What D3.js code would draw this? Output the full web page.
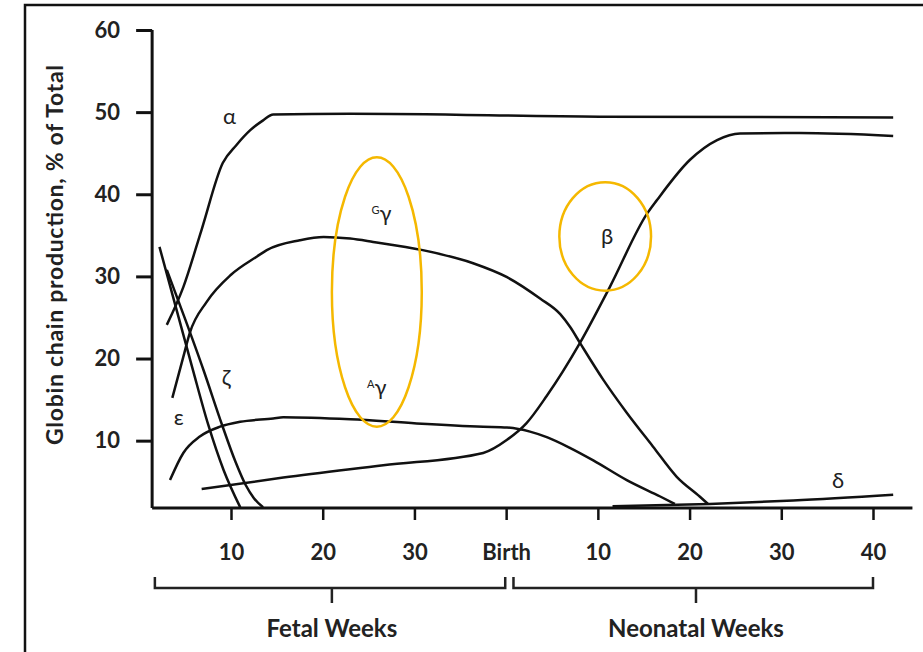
<!DOCTYPE html>
<html>
<head>
<meta charset="utf-8">
<script src="https://cdn.jsdelivr.net/npm/d3@7"></script>
<style>
  body { margin: 0; background: #fff; }
  text { font-family: Lato, "Open Sans", sans-serif; }
</style>
</head>
<body>
<div id="chart"></div>
<script>
// weeks counted from conception, birth = 40
const tickWeeks = [10, 20, 30, 40, 50, 60, 70, 80];
const tickLabels = ["10", "20", "30", "Birth", "10", "20", "30", "40"];
const yTicks = [10, 20, 30, 40, 50, 60];

// globin chains, [week, % of total]
const alpha = [[3.0, 24.1], [4.8, 28.7], [6.8, 35.7], [9.1, 43.8], [10.6, 46.0], [12.1, 47.8], [13.5, 49.0], [14.6, 49.7], [23, 49.8], [50.2, 49.45], [82.2, 49.35]];
const zeta = [[2.2, 33.6], [4.0, 26.2], [5.8, 18.8], [7.5, 12.0], [9.2, 6.4], [11.0, 1.9]];
const epsilon = [[3.0, 30.8], [5.0, 24.8], [7.0, 18.6], [9.0, 12.0], [10.5, 7.4], [11.6, 4.6], [12.5, 3.0], [13.5, 1.9]];
const gGamma = [[3.6, 15.2], [4.8, 20.2], [5.5, 23.1], [7.35, 26.9], [10.0, 30.2], [12.8, 32.4], [13.9, 33.2], [17.5, 34.4], [20.1, 34.8], [23.0, 34.6], [25.5, 34.2], [30.9, 33.2], [36.4, 31.6], [40.1, 29.9], [43.7, 27.3], [45.9, 25.4], [47.0, 23.8], [48.05, 21.9], [50.6, 17.4], [53.15, 13.4], [56.0, 9.3], [58.6, 5.6], [61.1, 3.2], [62.0, 2.3]];
const aGamma = [[3.35, 5.2], [4.8, 8.5], [6.6, 10.5], [8.8, 11.7], [11.0, 12.3], [14.6, 12.7], [15.7, 12.85], [23.0, 12.6], [30.25, 12.1], [37.5, 11.7], [40.1, 11.6], [42.6, 11.1], [44.5, 10.4], [47.0, 9.1], [49.5, 7.6], [53.15, 5.2], [56.8, 3.2], [58.4, 2.3]];
const beta = [[6.8, 4.1], [15.7, 5.5], [26.6, 7.0], [37.5, 8.5], [40.1, 10.1], [42.2, 12.1], [44.4, 15.4], [48.05, 21.9], [51.3, 28.7], [55.4, 37.7], [56.45, 39.3], [60.05, 44.2], [63.0, 46.6], [65.5, 47.4], [72, 47.45], [82.2, 47.1]];
const delta = [[51.6, 2.0], [62.2, 2.3], [71.3, 2.7], [82.2, 3.4]];

const chains = [alpha, zeta, epsilon, gGamma, aGamma, beta, delta];
const chainLabels = [
  { sym: "α", sup: "", w: 9.83, v: 48.6 },
  { sym: "ζ", sup: "", w: 9.45, v: 16.8 },
  { sym: "ε", sup: "", w: 4.3, v: 11.9 },
  { sym: "γ", sup: "G", w: 26.4, v: 36.8 },
  { sym: "γ", sup: "A", w: 25.9, v: 15.6 },
  { sym: "β", sup: "", w: 51.0, v: 33.9 },
  { sym: "δ", sup: "", w: 76.2, v: 4.2 }
];

const width = 923, height = 652;
const svg = d3.select("#chart").append("svg")
  .attr("width", width)
  .attr("height", height);

const x = d3.scaleLinear().domain([10, 80]).range([231, 873]);
const y = d3.scaleLinear().domain([1.8, 60]).range([508, 30]);

// outer frame (only left and top edges show)
svg.append("path")
  .attr("d", "M25,652V5H923")
  .attr("fill", "none").attr("stroke", "#111").attr("stroke-width", 2.5);

// y axis
const yAxis = svg.append("g")
  .attr("transform", "translate(" + x(1.4) + ",0)")
  .call(d3.axisLeft(y).tickValues(yTicks).tickSize(16).tickPadding(16).tickFormat(d3.format("d")));
yAxis.select(".domain").attr("d", "M0," + y(60) + "V" + y(1.8)).attr("stroke-width", 3).attr("stroke", "#111");
yAxis.selectAll(".tick line").attr("stroke-width", 3).attr("stroke", "#111");
yAxis.selectAll(".tick text").attr("font-size", 22).attr("font-weight", "bold").attr("fill", "#222");

// x axis
const xAxis = svg.append("g")
  .attr("transform", "translate(0," + y(1.8) + ")")
  .call(d3.axisBottom(x).tickValues(tickWeeks).tickSize(12).tickPadding(24)
    .tickFormat((d, i) => tickLabels[i]));
xAxis.select(".domain").attr("d", "M" + x(1.4) + ",0H" + x(84.3)).attr("stroke-width", 3).attr("stroke", "#111");
xAxis.selectAll(".tick line").attr("stroke-width", 2.5).attr("stroke", "#111");
xAxis.selectAll(".tick text").attr("font-size", 22).attr("font-weight", "bold").attr("fill", "#222");

// y label
svg.append("text")
  .attr("transform", "translate(63,255) rotate(-90)")
  .attr("text-anchor", "middle")
  .attr("font-size", 23).attr("font-weight", "bold").attr("fill", "#222")
  .attr("textLength", 380).attr("lengthAdjust", "spacing")
  .text("Globin chain production, % of Total");

// braces under the axis
const braces = [
  { from: 1.7, to: 39.9, mid: 21.0, label: "Fetal Weeks" },
  { from: 40.8, to: 80, mid: 60.7, label: "Neonatal Weeks" }
];
braces.forEach(function (b) {
  const x0 = x(b.from), x1 = x(b.to), xm = x(b.mid);
  svg.append("path")
    .attr("d", "M" + x0 + ",577V588H" + x1 + "V577M" + xm + ",588V603")
    .attr("fill", "none").attr("stroke", "#222").attr("stroke-width", 2.5);
  svg.append("text")
    .attr("x", xm).attr("y", 637)
    .attr("text-anchor", "middle")
    .attr("font-size", 24).attr("font-weight", "bold").attr("fill", "#222")
    .text(b.label);
});

// curves
const line = d3.line()
  .x(d => x(d[0]))
  .y(d => y(d[1]))
  .curve(d3.curveMonotoneX);

svg.append("g").selectAll("path")
  .data(chains)
  .enter()
  .append("path")
  .attr("d", line)
  .attr("fill", "none")
  .attr("stroke", "#111")
  .attr("stroke-width", 2.5)
  .attr("stroke-linejoin", "round");

// chain labels
const lab = svg.append("g").selectAll("text")
  .data(chainLabels)
  .enter()
  .append("text")
  .attr("x", d => x(d.w))
  .attr("y", d => y(d.v))
  .attr("text-anchor", "middle")
  .attr("font-family", "'Liberation Serif', 'DejaVu Serif', serif")
  .attr("font-size", 22)
  .attr("fill", "#222");
lab.filter(d => d.sup !== "").append("tspan")
  .attr("font-size", 11)
  .attr("dy", -7)
  .text(d => d.sup);
lab.append("tspan")
  .attr("dy", d => d.sup !== "" ? 7 : 0)
  .text(d => d.sym);

// yellow highlight rings
const rings = [
  { w: 25.9, v: 28.1, rw: 4.9, rv: 16.4 },
  { w: 50.8, v: 34.86, rw: 5.0, rv: 6.6 }
];
svg.append("g").selectAll("ellipse")
  .data(rings)
  .enter()
  .append("ellipse")
  .attr("cx", d => x(d.w))
  .attr("cy", d => y(d.v))
  .attr("rx", d => x(d.w + d.rw) - x(d.w))
  .attr("ry", d => y(d.v - d.rv) - y(d.v))
  .attr("fill", "none")
  .attr("stroke", "#f5b800")
  .attr("stroke-width", 2.5);
</script>
</body>
</html>
